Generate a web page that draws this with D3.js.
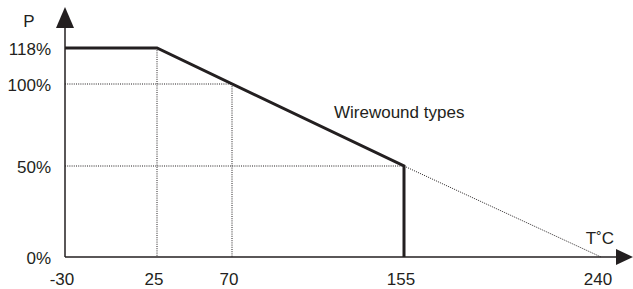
<!DOCTYPE html>
<html>
<head>
<meta charset="utf-8">
<script src="https://cdn.jsdelivr.net/npm/d3@7"></script>
<style>
  body { margin: 0; background: #fff; }
  text { font-family: "Liberation Sans", Arial, sans-serif; font-size: 17px; fill: #231f20; }
</style>
</head>
<body>
<div id="chart"></div>
<script>
// derating curve, temperature (C) vs power (%)
var tempTicks = [-30, 25, 70, 155, 240];
var powerTicks = [0, 50, 100, 118];
var powerLabels = ["0%", "50%", "100%", "118%"];
var curveTemp = [-30, 25, 155, 155];
var curvePower = [118, 118, 50, 0];
var extTemp = [155, 240];
var extPower = [50, 0];
var seriesLabel = "Wirewound types";

var width = 633, height = 289;

var svg = d3.select("#chart").append("svg")
  .attr("width", width)
  .attr("height", height);

// the drawing is schematic, so the scales are piecewise
var x = d3.scaleLinear().domain(tempTicks).range([65, 157, 232, 404, 601]);
var y = d3.scaleLinear().domain(powerTicks).range([257, 166, 84, 48]);

var ink = "#231f20";

// dotted guide lines
var guides = [
  [[-30, 100], [70, 100]],
  [[-30, 50], [155, 50]],
  [[25, 118], [25, 0]],
  [[70, 100], [70, 0]]
];
var line = d3.line().x(function (d) { return x(d[0]); }).y(function (d) { return y(d[1]); });

svg.selectAll(".guide")
  .data(guides)
  .enter().append("path")
  .attr("class", "guide")
  .attr("d", line)
  .attr("fill", "none")
  .attr("stroke", ink)
  .attr("stroke-width", 1)
  .attr("stroke-dasharray", "1,1.2");

// dotted extension to 240
svg.append("path")
  .attr("d", line(extTemp.map(function (t, i) { return [t, extPower[i]]; })))
  .attr("fill", "none")
  .attr("stroke", ink)
  .attr("stroke-width", 1)
  .attr("stroke-dasharray", "1,1.2");

// axes
svg.append("line")
  .attr("x1", x(-30)).attr("x2", 618)
  .attr("y1", y(0)).attr("y2", y(0))
  .attr("stroke", ink).attr("stroke-width", 1.5);
svg.append("line")
  .attr("x1", x(-30)).attr("x2", x(-30))
  .attr("y1", y(0)).attr("y2", 26)
  .attr("stroke", ink).attr("stroke-width", 1.5);

// arrow heads
svg.append("path")
  .attr("d", "M" + (x(-30) - 9) + ",28L" + x(-30) + ",7L" + (x(-30) + 9) + ",28Z")
  .attr("fill", ink);
svg.append("path")
  .attr("d", "M616," + (y(0) - 8) + "L633," + y(0) + "L616," + (y(0) + 8) + "Z")
  .attr("fill", ink);

// main curve
svg.append("path")
  .attr("d", line(curveTemp.map(function (t, i) { return [t, curvePower[i]]; })))
  .attr("fill", "none")
  .attr("stroke", ink)
  .attr("stroke-width", 3)
  .attr("stroke-linejoin", "miter");

// tick labels
svg.selectAll(".xlab")
  .data(tempTicks)
  .enter().append("text")
  .attr("class", "xlab")
  .attr("x", function (d) { return x(d) - 3; })
  .attr("y", 285)
  .attr("text-anchor", "middle")
  .text(function (d) { return d; });

svg.selectAll(".ylab")
  .data(powerTicks)
  .enter().append("text")
  .attr("class", "ylab")
  .attr("x", 51)
  .attr("y", function (d) { return y(d) + 7; })
  .attr("text-anchor", "end")
  .text(function (d, i) { return powerLabels[i]; });

svg.append("text").attr("x", 29).attr("y", 27).attr("text-anchor", "middle").text("P");
svg.append("text").attr("x", 600).attr("y", 244).attr("text-anchor", "middle").text("T\u02DAC");
svg.append("text").attr("x", 334).attr("y", 118).text(seriesLabel);
</script>
</body>
</html>
